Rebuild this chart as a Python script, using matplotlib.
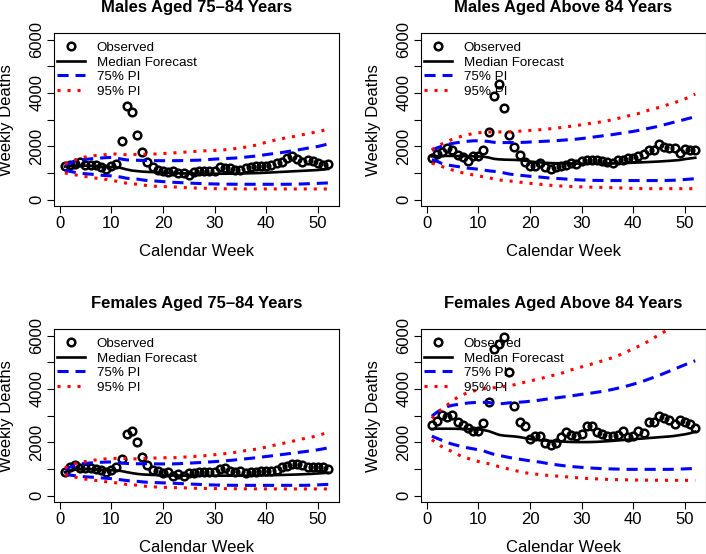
import matplotlib
matplotlib.use('Agg')
import matplotlib.pyplot as plt
import numpy as np

plt.rcParams['font.family'] = ['Liberation Sans', 'DejaVu Sans']
plt.rcParams['lines.scale_dashes'] = False

weeks = np.arange(1, 53)

# Males aged 75-84
m7584_obs = [1245, 1310, 1345, 1400, 1310, 1290, 1310, 1210, 1160, 1270,
             1345, 2205, 3525, 3300, 2430, 1780, 1395, 1220, 1120, 1085,
             1045, 1085, 985, 985, 920, 1020, 1060, 1085, 1085, 1085,
             1220, 1170, 1195, 1110, 1110, 1170, 1230, 1245, 1270, 1270,
             1310, 1360, 1395, 1545, 1645, 1520, 1395, 1480, 1445, 1370,
             1295, 1320]
m7584_med = [1240, 1260, 1270, 1270, 1270, 1260, 1250, 1240, 1230, 1220,
             1210, 1180, 1130, 1090, 1070, 1050, 1040, 1030, 1020, 1010,
             1000, 995, 990, 985, 980, 975, 975, 970, 970, 970,
             970, 970, 975, 975, 980, 985, 990, 995, 1000, 1010,
             1020, 1030, 1040, 1050, 1060, 1070, 1080, 1090, 1100, 1110,
             1130, 1150]
m7584_lo75 = [1100, 1060, 1020, 990, 970, 955, 935, 915, 900, 890,
              870, 840, 800, 785, 770, 740, 715, 705, 690, 675,
              660, 650, 640, 630, 620, 612, 605, 598, 592, 587,
              583, 580, 578, 576, 575, 575, 575, 575, 575, 575,
              575, 575, 575, 575, 578, 582, 588, 595, 602, 610,
              618, 625]
m7584_hi75 = [1300, 1370, 1430, 1480, 1510, 1530, 1545, 1560, 1575, 1580,
              1560, 1520, 1490, 1480, 1475, 1470, 1465, 1460, 1460, 1460,
              1460, 1460, 1462, 1465, 1470, 1475, 1480, 1490, 1505, 1520,
              1530, 1540, 1550, 1560, 1575, 1595, 1615, 1635, 1660, 1690,
              1715, 1740, 1765, 1800, 1830, 1860, 1895, 1930, 1960, 1995,
              2040, 2090]
m7584_lo95 = [1000, 965, 930, 895, 865, 835, 805, 780, 755, 720,
              690, 645, 615, 595, 575, 548, 525, 505, 495, 487,
              481, 475, 465, 452, 445, 437, 432, 426, 418, 411,
              408, 406, 404, 403, 402, 400, 400, 400, 400, 400,
              400, 400, 400, 400, 400, 400, 400, 400, 400, 400,
              400, 400]
m7584_hi95 = [1340, 1420, 1490, 1550, 1600, 1630, 1655, 1670, 1690, 1710,
              1710, 1690, 1685, 1690, 1695, 1700, 1705, 1708, 1715, 1728,
              1740, 1752, 1765, 1778, 1792, 1805, 1818, 1830, 1838, 1845,
              1855, 1870, 1890, 1915, 1940, 1970, 2005, 2045, 2100, 2150,
              2200, 2245, 2285, 2320, 2355, 2395, 2435, 2470, 2510, 2550,
              2595, 2635]

# Males aged above 84
m85_obs = [1545, 1705, 1770, 1920, 1870, 1680, 1595, 1460, 1645, 1620,
           1845, 2555, 3885, 4335, 3450, 2415, 1970, 1655, 1420, 1270,
           1245, 1370, 1210, 1145, 1220, 1270, 1310, 1370, 1345, 1460,
           1470, 1470, 1470, 1445, 1395, 1355, 1470, 1495, 1570, 1570,
           1645, 1705, 1845, 1845, 2080, 1990, 1955, 1920, 1745, 1895,
           1845, 1845]
m85_med = [1620, 1635, 1640, 1640, 1638, 1635, 1632, 1628, 1625, 1620,
           1610, 1580, 1530, 1510, 1500, 1495, 1490, 1480, 1460, 1430,
           1410, 1395, 1380, 1370, 1365, 1362, 1358, 1355, 1352, 1350,
           1349, 1348, 1348, 1349, 1352, 1356, 1362, 1368, 1375, 1385,
           1393, 1402, 1410, 1420, 1430, 1442, 1455, 1470, 1485, 1520,
           1545, 1570]
m85_lo75 = [1500, 1440, 1350, 1300, 1270, 1240, 1210, 1180, 1160, 1140,
            1110, 1080, 1060, 1040, 1000, 960, 935, 915, 895, 875,
            860, 845, 825, 805, 795, 785, 770, 755, 745, 735,
            728, 722, 720, 718, 715, 715, 715, 715, 715, 715,
            715, 715, 715, 715, 715, 718, 722, 728, 740, 755,
            770, 785]
m85_hi75 = [1850, 1940, 2010, 2070, 2110, 2140, 2165, 2190, 2205, 2210,
            2200, 2180, 2150, 2140, 2140, 2140, 2140, 2145, 2150, 2160,
            2170, 2180, 2190, 2200, 2210, 2225, 2240, 2255, 2270, 2290,
            2315, 2340, 2365, 2390, 2415, 2440, 2470, 2500, 2530, 2560,
            2595, 2635, 2675, 2715, 2760, 2810, 2860, 2910, 2960, 3010,
            3060, 3110]
m85_lo95 = [1370, 1300, 1240, 1170, 1110, 1055, 1005, 965, 925, 890,
            855, 820, 780, 740, 715, 700, 680, 655, 635, 612,
            592, 575, 555, 537, 522, 510, 500, 492, 485, 478,
            472, 467, 462, 457, 452, 447, 440, 433, 426, 420,
            415, 412, 410, 410, 410, 410, 410, 410, 410, 410,
            410, 410]
m85_hi95 = [1870, 1990, 2095, 2190, 2265, 2335, 2390, 2440, 2475, 2505,
            2525, 2535, 2540, 2540, 2540, 2542, 2555, 2568, 2580, 2595,
            2608, 2622, 2640, 2660, 2680, 2702, 2728, 2755, 2780, 2808,
            2840, 2868, 2895, 2925, 2960, 3000, 3045, 3090, 3140, 3185,
            3230, 3290, 3355, 3405, 3460, 3520, 3580, 3640, 3705, 3780,
            3860, 3960]

# Females aged 75-84
f7584_obs = [873, 1072, 1147, 1035, 1035, 1035, 1000, 948, 873, 948,
             1060, 1372, 2307, 2406, 2007, 1446, 1160, 973, 910, 848,
             885, 723, 810, 748, 848, 860, 873, 873, 873, 898,
             998, 1047, 910, 885, 910, 860, 898, 898, 923, 910,
             923, 960, 1060, 1097, 1185, 1172, 1160, 1072, 1072, 1072,
             1072, 985]
f7584_med = [880, 940, 970, 985, 990, 990, 985, 975, 965, 955,
             945, 920, 880, 845, 815, 795, 785, 775, 770, 765,
             760, 755, 752, 750, 748, 748, 748, 748, 748, 748,
             748, 748, 748, 748, 748, 750, 752, 755, 758, 762,
             766, 770, 775, 780, 786, 792, 800, 808, 818, 830,
             845, 860]
f7584_lo75 = [790, 770, 745, 720, 705, 695, 680, 665, 650, 635,
              615, 590, 565, 548, 535, 515, 500, 492, 485, 478,
              472, 465, 455, 445, 437, 428, 420, 410, 403, 398,
              393, 390, 388, 386, 385, 385, 385, 385, 385, 385,
              385, 385, 385, 385, 385, 385, 385, 388, 395, 403,
              412, 422]
f7584_hi75 = [980, 1070, 1140, 1185, 1210, 1225, 1238, 1250, 1258, 1262,
              1250, 1225, 1205, 1198, 1195, 1195, 1195, 1192, 1190, 1188,
              1187, 1190, 1198, 1208, 1218, 1228, 1238, 1250, 1262, 1275,
              1290, 1305, 1320, 1340, 1360, 1380, 1400, 1420, 1445, 1468,
              1490, 1515, 1540, 1565, 1590, 1615, 1640, 1665, 1690, 1720,
              1755, 1790]
f7584_lo95 = [785, 740, 695, 655, 618, 593, 568, 543, 518, 498,
              478, 445, 418, 405, 390, 362, 343, 330, 320, 312,
              306, 300, 296, 291, 284, 276, 272, 269, 266, 264,
              262, 260, 258, 257, 256, 255, 254, 253, 253, 252,
              252, 251, 251, 250, 250, 250, 250, 250, 250, 250,
              250, 250]
f7584_hi95 = [1035, 1130, 1205, 1245, 1278, 1310, 1338, 1360, 1378, 1390,
              1398, 1398, 1390, 1378, 1380, 1390, 1400, 1406, 1413, 1420,
              1421, 1421, 1430, 1444, 1457, 1470, 1482, 1495, 1514, 1534,
              1553, 1573, 1598, 1624, 1656, 1688, 1715, 1742, 1780, 1820,
              1868, 1910, 1950, 1992, 2035, 2080, 2127, 2165, 2205, 2255,
              2315, 2360]

# Females aged above 84
f85_obs = [2656, 2818, 3030, 2943, 3017, 2743, 2631, 2531, 2431, 2406,
           2706, 3529, 5486, 5700, 5960, 4626, 3367, 2780, 2618, 2132,
           2219, 2219, 1970, 1883, 1983, 2182, 2369, 2282, 2219, 2307,
           2618, 2618, 2382, 2319, 2219, 2219, 2282, 2406, 2207, 2219,
           2431, 2344, 2756, 2756, 3005, 2930, 2855, 2681, 2843, 2756,
           2693, 2531]
f85_med = [2500, 2510, 2510, 2510, 2510, 2505, 2500, 2495, 2490, 2485,
           2460, 2420, 2350, 2280, 2250, 2235, 2220, 2195, 2160, 2125,
           2100, 2080, 2065, 2050, 2040, 2030, 2020, 2012, 2008, 2007,
           2008, 2012, 2018, 2028, 2040, 2055, 2070, 2085, 2100, 2115,
           2130, 2145, 2160, 2175, 2190, 2205, 2220, 2240, 2270, 2300,
           2340, 2400]
f85_lo75 = [2230, 2150, 2070, 1990, 1930, 1880, 1835, 1790, 1755, 1720,
            1680, 1610, 1550, 1510, 1470, 1430, 1395, 1365, 1335, 1305,
            1280, 1255, 1220, 1185, 1160, 1135, 1110, 1090, 1075, 1060,
            1045, 1032, 1022, 1012, 1005, 1000, 995, 990, 985, 985,
            985, 985, 985, 985, 985, 985, 985, 990, 995, 1003,
            1012, 1022]
f85_hi75 = [2980, 3130, 3250, 3340, 3390, 3420, 3450, 3475, 3490, 3500,
            3500, 3495, 3460, 3440, 3460, 3480, 3495, 3505, 3520, 3540,
            3560, 3585, 3615, 3640, 3665, 3690, 3715, 3740, 3770, 3800,
            3825, 3850, 3880, 3910, 3945, 3985, 4030, 4075, 4125, 4180,
            4240, 4300, 4370, 4440, 4510, 4590, 4670, 4750, 4830, 4910,
            4990, 5060]
f85_lo95 = [2095, 1960, 1830, 1735, 1645, 1545, 1455, 1395, 1335, 1280,
            1235, 1195, 1145, 1085, 1040, 990, 945, 900, 860, 828,
            808, 788, 768, 750, 736, 723, 705, 685, 672, 658,
            645, 635, 627, 620, 608, 600, 598, 595, 590, 586,
            583, 580, 578, 577, 576, 575, 575, 574, 574, 573,
            573, 573]
f85_hi95 = [2900, 3100, 3250, 3400, 3560, 3690, 3790, 3860, 3920, 3970,
            4010, 4030, 4050, 4070, 4095, 4120, 4160, 4210, 4255, 4300,
            4345, 4390, 4440, 4490, 4535, 4585, 4650, 4720, 4775, 4830,
            4880, 4940, 5000, 5055, 5110, 5180, 5250, 5330, 5420, 5510,
            5600, 5690, 5800, 5920, 6040, 6150, 6245, 6350, 6460, 6570,
            6690, 6800]

titles = ['Males Aged 75\u201384 Years', 'Males Aged Above 84 Years',
          'Females Aged 75\u201384 Years', 'Females Aged Above 84 Years']
panels = [
    (m7584_obs, m7584_med, m7584_lo75, m7584_hi75, m7584_lo95, m7584_hi95),
    (m85_obs, m85_med, m85_lo75, m85_hi75, m85_lo95, m85_hi95),
    (f7584_obs, f7584_med, f7584_lo75, f7584_hi75, f7584_lo95, f7584_hi95),
    (f85_obs, f85_med, f85_lo75, f85_hi75, f85_lo95, f85_hi95),
]

W, H = 706, 554
fig = plt.figure(figsize=(W / 100, H / 100), dpi=100)

# box corners in pixels (left, top)
boxes = [(54.3, 33.3), (421.3, 33.3), (54.3, 329.3), (421.3, 329.3)]
bw, bh = 284.5, 172.7

dash75 = (0, (8.0, 5.0))
dot95 = (0, (2.2, 5.0))

for (bx, by), title, (obs, med, lo75, hi75, lo95, hi95) in zip(boxes, titles, panels):
    ax = fig.add_axes([bx / W, 1 - (by + bh) / H, bw / W, bh / H])
    ax.plot(weeks, obs, 'o', mfc='none', mec='black', ms=5.5, mew=1.8,
            label='Observed')
    ax.plot(weeks, med, '-', color='black', lw=1.9, label='Median Forecast')
    ax.plot(weeks, lo75, color='blue', lw=2.2, ls=dash75, label='75% PI')
    ax.plot(weeks, hi75, color='blue', lw=2.2, ls=dash75)
    ax.plot(weeks, lo95, color='red', lw=2.2, ls=dot95, label='95% PI')
    ax.plot(weeks, hi95, color='red', lw=2.2, ls=dot95)

    ax.set_xlim(1 - 0.04 * 51, 52 + 0.04 * 51)
    ax.set_ylim(-240, 6240)
    ax.set_xticks([0, 10, 20, 30, 40, 50])
    ax.set_yticks([0, 1000, 2000, 3000, 4000, 5000, 6000])
    ax.set_yticklabels(['0', '', '2000', '', '4000', '', '6000'])
    ax.tick_params(direction='out', length=5, width=0.8, labelsize=12, pad=2)
    plt.setp(ax.get_yticklabels(), rotation=90, va='center')
    for s in ax.spines.values():
        s.set_linewidth(0.8)

    ax.set_xlabel('Calendar Week', fontsize=12)
    ax.set_ylabel('Weekly Deaths', fontsize=12)
    ax.xaxis.set_label_coords(0.5, -46 / bh)
    ax.yaxis.set_label_coords(-48 / bw, 0.5)
    ax.xaxis.label.set_va('center')
    ax.yaxis.label.set_va('center')
    ax.text(0.5, 1 + 26 / bh, title, transform=ax.transAxes, ha='center',
            va='center', fontsize=12, fontweight='bold')

    ax.legend(loc='upper left', bbox_to_anchor=(3 / bw, 1 - 8.5 / bh),
              frameon=False, fontsize=9.6, handlelength=2.1,
              handletextpad=0.85, borderpad=0, borderaxespad=0,
              labelspacing=0.16)

fig.savefig('out.png', dpi=100)
